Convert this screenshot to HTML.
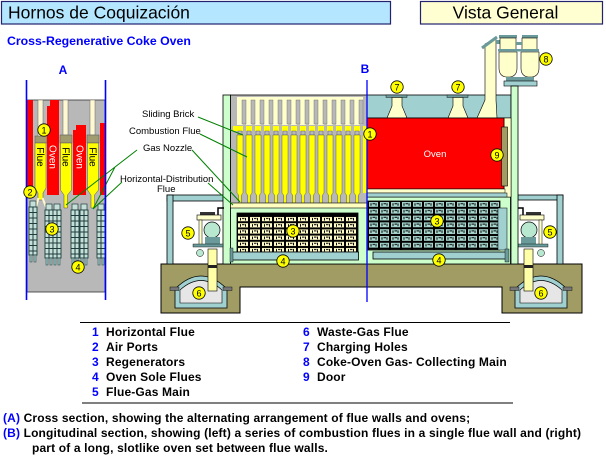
<!DOCTYPE html>
<html><head><meta charset="utf-8">
<style>
html,body{margin:0;padding:0;background:#fff;}
svg{display:block;}
text{font-family:"Liberation Sans",Arial,sans-serif;}
</style></head><body>
<svg width="606" height="456" viewBox="0 0 606 456" xmlns="http://www.w3.org/2000/svg">
<defs>
 <pattern id="regL" x="237" y="216" width="12" height="6.2" patternUnits="userSpaceOnUse">
  <rect width="12" height="6.2" fill="#000"/>
  <rect x="1" y="1" width="10" height="4.2" fill="#fffbc8"/>
  <rect x="3" y="2" width="1" height="2.5" fill="#000"/>
  <rect x="5" y="2" width="2.5" height="1" fill="#000"/>
  <rect x="8" y="2" width="1" height="2.5" fill="#000"/>
 </pattern>
 <pattern id="regR" x="368" y="201" width="11" height="6.8" patternUnits="userSpaceOnUse">
  <rect width="11" height="6.8" fill="#000"/>
  <rect x="1" y="1" width="9" height="4.8" fill="#a8d8d0"/>
  <rect x="2.5" y="2.2" width="1" height="2.5" fill="#000"/>
  <rect x="4.5" y="2.2" width="2.5" height="1" fill="#000"/>
  <rect x="7.5" y="2.2" width="1" height="2.5" fill="#000"/>
 </pattern>
 <g id="colA">
  <rect x="1" y="-6" width="6" height="6" fill="#c4e0d8" stroke="#1e3c3c" stroke-width="0.7"/>
  <rect x="0" y="0" width="8" height="48" fill="#c4e0d8" stroke="#1e3c3c" stroke-width="0.9"/>
  <path d="M4,0V48 M0,5.5H8 M0,11H8 M0,16.5H8 M0,22H8 M0,27.5H8 M0,33H8 M0,38.5H8 M0,44H8" stroke="#1e3c3c" stroke-width="1" fill="none"/>
  <rect x="1" y="48" width="2" height="7" fill="#a0c8c8" stroke="#1e3c3c" stroke-width="0.5"/>
  <rect x="5" y="48" width="2" height="7" fill="#a0c8c8" stroke="#1e3c3c" stroke-width="0.5"/>
 </g>
 <g id="fu">
  <rect x="5" y="100" width="4" height="24" fill="#b8b8b8" stroke="#666" stroke-width="0.4"/>
  <rect x="6" y="124" width="3" height="10" fill="#b8b8b8"/>
  <rect x="1" y="131" width="4" height="4" fill="#b8b8b8" stroke="#555" stroke-width="0.4"/>
  <path d="M0,135 H6 V193 L4.2,195.5 V203 H1.8 V195.5 L0,193 Z" fill="#ff0" stroke="#444" stroke-width="0.4"/>
 </g>
 <g id="equip">
  <rect x="200" y="212" width="15" height="3" fill="#333"/>
  <rect x="197" y="215" width="24" height="5" fill="#ffffcc" stroke="#000" stroke-width="0.6"/>
  <path d="M218,215 V208 H224" stroke="#000" stroke-width="1.5" fill="none"/>
  <rect x="199" y="220" width="3" height="26" fill="#ffffcc" stroke="#000" stroke-width="0.5"/>
  <circle cx="212" cy="230" r="8" fill="#b8e8d0" stroke="#000" stroke-width="0.7"/>
  <rect x="205" y="237" width="15" height="7" fill="#6a9a9a"/>
  <rect x="193" y="244" width="30" height="3" fill="#6a9a9a" stroke="#000" stroke-width="0.4"/>
  <circle cx="200" cy="253" r="3.5" fill="#b8e8d0" stroke="#000" stroke-width="0.5"/>
 </g>
</defs>

<rect width="606" height="456" fill="#fff"/>

<!-- Header -->
<rect x="1.5" y="1.5" width="389" height="22.5" fill="#b4e6ff" stroke="#22226e" stroke-width="1.2"/>
<text x="8" y="18.5" font-size="17.5">Hornos de Coquización</text>
<rect x="420.5" y="1.5" width="182" height="22.5" fill="#ffffd2" stroke="#22226e" stroke-width="1.2"/>
<text x="505.5" y="18.5" font-size="17.5" text-anchor="middle">Vista General</text>
<text x="7" y="45" font-size="12.3" font-weight="bold" fill="#0000ff">Cross-Regenerative Coke Oven</text>

<!-- Section A -->
<text x="63" y="74" font-size="12" font-weight="bold" fill="#0000ff" text-anchor="middle">A</text>
<rect x="27" y="100" width="78" height="192" fill="#b8b8b8" stroke="#333" stroke-width="0.8"/>
<rect x="27" y="100" width="6" height="92" fill="#f00"/>
<!-- flue 1 -->
<rect x="38" y="100" width="5" height="37" fill="#fff8d0" stroke="#666" stroke-width="0.5"/>
<rect x="35" y="136" width="12" height="7" fill="#a09c70" stroke="#555" stroke-width="0.5"/>
<path d="M35,143 H46 V188 L43,193 V200 H38 V193 L35,188 Z" fill="#ff0" stroke="#555" stroke-width="0.5"/>
<path d="M38.5,198 L36,207 M42.5,198 L46,207" stroke="#fff8d0" stroke-width="2" fill="none"/>
<!-- oven 1 -->
<path d="M50,100 H59 V195 H47 V106 H50 Z" fill="#f00"/>
<!-- flue 2 -->
<rect x="63" y="100" width="5" height="35" fill="#fff8d0" stroke="#666" stroke-width="0.5"/>
<rect x="60" y="135" width="12" height="8" fill="#a09c70" stroke="#555" stroke-width="0.5"/>
<path d="M60.5,143 H71.5 V190 L67.5,195 V208 H64 V195 L60.5,190 Z" fill="#ff0" stroke="#555" stroke-width="0.5"/>
<!-- oven 2 -->
<path d="M76,125 H86 V195 H73 V130 H76 Z" fill="#f00"/>
<!-- flue 3 -->
<rect x="90" y="100" width="5" height="35" fill="#fff8d0" stroke="#666" stroke-width="0.5"/>
<rect x="87" y="135" width="12" height="8" fill="#a09c70" stroke="#555" stroke-width="0.5"/>
<path d="M87.5,143 H98.5 V190 L94.5,195 V208 H91 V195 L87.5,190 Z" fill="#ff0" stroke="#555" stroke-width="0.5"/>
<rect x="100" y="123" width="5" height="72" fill="#f00"/>
<text transform="translate(40.5,157) rotate(90)" x="0" y="3.6" font-size="10" text-anchor="middle" fill="#000">Flue</text>
<text transform="translate(53,157) rotate(90)" x="0" y="3.6" font-size="10" text-anchor="middle" fill="#fff">Oven</text>
<text transform="translate(66,157) rotate(90)" x="0" y="3.6" font-size="10" text-anchor="middle" fill="#000">Flue</text>
<text transform="translate(80,157) rotate(90)" x="0" y="3.6" font-size="10" text-anchor="middle" fill="#fff">Oven</text>
<text transform="translate(93,157) rotate(90)" x="0" y="3.6" font-size="10" text-anchor="middle" fill="#000">Flue</text>
<!-- regenerator columns A -->
<use href="#colA" x="29" y="207"/>
<use href="#colA" x="45" y="210"/>
<use href="#colA" x="53" y="210"/>
<use href="#colA" x="71" y="210"/>
<use href="#colA" x="80" y="210"/>
<use href="#colA" x="97" y="210"/>
<path d="M137,150 L115,167 L66,205 M115,167 L93,209 M122,182 L93,209" stroke="#008000" stroke-width="1" fill="none"/>
<line x1="26.5" y1="80" x2="26.5" y2="300" stroke="#0000ff" stroke-width="1.6"/>
<line x1="105.5" y1="80" x2="105.5" y2="300" stroke="#0000ff" stroke-width="1.6"/>

<!-- Foundation -->
<path d="M161,264 H582 V313 H502 V287 H240 V313 H161 Z" fill="#a09c64" stroke="#000" stroke-width="1"/>
<!-- left pit -->
<path d="M175,289 Q201,263 227,289 V308 H175 Z" fill="#a0d0d0" stroke="#000" stroke-width="0.8"/>
<path d="M180,290 Q201,271 222,290 V303 H180 Z" fill="#e6e6e6" stroke="#000" stroke-width="0.6"/>
<rect x="170" y="287" width="9" height="3.5" fill="#777" stroke="#000" stroke-width="0.4"/>
<rect x="223" y="287" width="9" height="3.5" fill="#777" stroke="#000" stroke-width="0.4"/>
<!-- right pit -->
<path d="M515,289 Q541,263 567,289 V308 H515 Z" fill="#a0d0d0" stroke="#000" stroke-width="0.8"/>
<path d="M520,290 Q541,271 562,290 V303 H520 Z" fill="#e6e6e6" stroke="#000" stroke-width="0.6"/>
<rect x="510" y="287" width="9" height="3.5" fill="#777" stroke="#000" stroke-width="0.4"/>
<rect x="563" y="287" width="9" height="3.5" fill="#777" stroke="#000" stroke-width="0.4"/>

<!-- frames -->
<rect x="167" y="195" width="56" height="6" fill="#a0d0d0" stroke="#000" stroke-width="0.8"/>
<rect x="167" y="195" width="6" height="69" fill="#a0d0d0" stroke="#000" stroke-width="0.8"/>
<rect x="518" y="195" width="45" height="5" fill="#a0d0d0" stroke="#000" stroke-width="0.8"/>
<rect x="557" y="195" width="6" height="69" fill="#a0d0d0" stroke="#000" stroke-width="0.8"/>

<!-- chamber -->
<rect x="230.5" y="197" width="280" height="67" fill="#ccffcc" stroke="#000" stroke-width="0.8"/>
<rect x="223" y="95" width="7.5" height="169" fill="#ccffcc" stroke="#000" stroke-width="0.8"/>

<!-- flue wall -->
<rect x="230.5" y="95" width="136.5" height="112" fill="#b8b8b8" stroke="#000" stroke-width="0.8"/>
<rect x="237" y="97" width="126" height="28" fill="#ffffcc"/>
<rect x="233" y="126" width="134" height="5" fill="#ff0"/>
<use href="#fu" x="237"/><use href="#fu" x="246"/><use href="#fu" x="255"/><use href="#fu" x="264"/>
<use href="#fu" x="273"/><use href="#fu" x="282"/><use href="#fu" x="291"/><use href="#fu" x="300"/>
<use href="#fu" x="309"/><use href="#fu" x="318"/><use href="#fu" x="327"/><use href="#fu" x="336"/>
<use href="#fu" x="345"/><use href="#fu" x="354"/>
<rect x="363" y="135" width="3.5" height="58" fill="#ff0"/>
<rect x="230.5" y="203" width="136.5" height="5" fill="#ffffc0" stroke="#000" stroke-width="0.6"/>

<!-- regenerators B -->
<rect x="237" y="213" width="121" height="39" fill="url(#regL)" stroke="#000" stroke-width="0.8"/>
<rect x="237" y="213" width="121" height="3" fill="#000"/>
<rect x="230.5" y="252" width="128" height="8" fill="#a0d0d0" stroke="#000" stroke-width="0.8"/>
<rect x="230" y="248" width="3" height="14" fill="#6a9a9a" stroke="#000" stroke-width="0.4"/>
<rect x="368" y="201" width="132" height="49" fill="url(#regR)" stroke="#000" stroke-width="0.8"/>
<rect x="498" y="208" width="9" height="42" fill="#a0d0d0" stroke="#000" stroke-width="0.5"/>
<rect x="373" y="252" width="135" height="7" fill="#a0d0d0" stroke="#000" stroke-width="0.8"/>
<rect x="505" y="249" width="4" height="13" fill="#6a9a9a" stroke="#000" stroke-width="0.4"/>

<!-- equipment -->
<use href="#equip"/>
<g transform="translate(741,0) scale(-1,1)"><use href="#equip"/></g>
<rect x="208" y="249" width="9" height="42" fill="#ffffa8" stroke="#000" stroke-width="0.6"/>
<rect x="208" y="265" width="9" height="3" fill="#222"/>
<rect x="524" y="249" width="9" height="42" fill="#ffffa8" stroke="#000" stroke-width="0.6"/>
<rect x="524" y="265" width="9" height="3" fill="#222"/>

<!-- right top -->
<rect x="367" y="95" width="144" height="23" fill="#a0d0d0" stroke="#000" stroke-width="0.8"/>
<rect x="386" y="95" width="21" height="2.5" fill="#6a9a9a" stroke="#000" stroke-width="0.4"/>
<path d="M392,97.5 H402 V106 L407,118 H387 L392,106 Z" fill="#ffffcc" stroke="#000" stroke-width="0.6"/>
<rect x="447" y="95" width="21" height="2.5" fill="#6a9a9a" stroke="#000" stroke-width="0.4"/>
<path d="M453,97.5 H463 V106 L468,118 H448 L453,106 Z" fill="#ffffcc" stroke="#000" stroke-width="0.6"/>
<path d="M485,44 L496,38 V100 L497,118 H477 L485,100 Z" fill="#ffffcc" stroke="#000" stroke-width="0.6"/>
<line x1="482" y1="48" x2="497" y2="37" stroke="#6a9a9a" stroke-width="3"/>
<rect x="496" y="40" width="4" height="4" fill="#6a9a9a"/>
<rect x="499" y="35" width="18" height="3" fill="#6a9a9a"/>
<rect x="522" y="35" width="16" height="3" fill="#6a9a9a"/>
<rect x="500" y="38" width="16" height="12" fill="#ffffcc" stroke="#000" stroke-width="0.6"/>
<rect x="522" y="38" width="15" height="12" fill="#ffffcc" stroke="#000" stroke-width="0.6"/>
<rect x="516" y="42" width="6" height="3" fill="#6a9a9a"/>
<rect x="498" y="49" width="41" height="2.5" fill="#6a9a9a"/>
<path d="M499,52 H517 V68 Q517,76 510,77 H506 Q499,76 499,68 Z" fill="#ffffcc" stroke="#000" stroke-width="0.6"/>
<path d="M521,52 H539 V68 Q539,76 532,77 H528 Q521,76 521,68 Z" fill="#ffffcc" stroke="#000" stroke-width="0.6"/>
<rect x="506" y="77" width="28" height="4" fill="#6a9a9a"/>
<rect x="504" y="81" width="33" height="5" fill="#a0d0d0" stroke="#000" stroke-width="0.6"/>
<rect x="511" y="86" width="7" height="178" fill="#ccffcc" stroke="#000" stroke-width="0.8"/>
<rect x="504" y="118" width="7" height="79" fill="#ffffcc" stroke="#000" stroke-width="0.5"/>
<rect x="367" y="118" width="137" height="71" fill="#f00" stroke="#000" stroke-width="0.8"/>
<text x="435" y="157" font-size="9.5" fill="#fff" text-anchor="middle">Oven</text>
<rect x="501.5" y="127" width="6" height="59" fill="#a09c64" stroke="#000" stroke-width="0.6"/>
<rect x="367" y="189" width="138" height="4" fill="#ffffcc" stroke="#000" stroke-width="0.5"/>
<rect x="367" y="193" width="140" height="4" fill="#a0d0d0" stroke="#000" stroke-width="0.5"/>

<!-- B label and line -->
<text x="365" y="73" font-size="12" font-weight="bold" fill="#0000ff" text-anchor="middle">B</text>
<line x1="367" y1="80" x2="367" y2="302" stroke="#0000ff" stroke-width="1.3"/>

<!-- middle labels -->
<g font-size="9.5" fill="#000">
<text x="142" y="117">Sliding Brick</text>
<text x="129" y="134">Combustion Flue</text>
<text x="143" y="151">Gas Nozzle</text>
<text x="120" y="182">Horizontal-Distribution</text>
<text x="157" y="192">Flue</text>
</g>
<path d="M198,117 L243,135 M200,134 L247,157 M192,150 L240,202 M208,183 L233,205" stroke="#008000" stroke-width="1" fill="none"/>

<!-- number circles -->
<g font-size="9" text-anchor="middle" fill="#000">
<g fill="#ff0" stroke="#000" stroke-width="0.8">
<circle cx="44" cy="130" r="6.2"/><circle cx="370" cy="134" r="6.2"/>
<circle cx="30" cy="192" r="6.2"/>
<circle cx="52" cy="229" r="6.2"/><circle cx="293" cy="231" r="6.2"/><circle cx="437" cy="221" r="6.2"/>
<circle cx="78" cy="267" r="6.2"/><circle cx="283" cy="261" r="6.2"/><circle cx="439" cy="260" r="6.2"/>
<circle cx="188" cy="233" r="6.2"/><circle cx="550" cy="232" r="6.2"/>
<circle cx="199" cy="293" r="6.2"/><circle cx="541" cy="293" r="6.2"/>
<circle cx="397" cy="87" r="6.2"/><circle cx="458" cy="87" r="6.2"/>
<circle cx="546" cy="59" r="6.2"/>
<circle cx="497" cy="155" r="6.2"/>
</g>
<text x="44" y="133.3">1</text><text x="370" y="137.3">1</text>
<text x="30" y="195.3">2</text>
<text x="52" y="232.3">3</text><text x="293" y="234.3">3</text><text x="437" y="224.3">3</text>
<text x="78" y="270.3">4</text><text x="283" y="264.3">4</text><text x="439" y="263.3">4</text>
<text x="188" y="236.3">5</text><text x="550" y="235.3">5</text>
<text x="199" y="296.3">6</text><text x="541" y="296.3">6</text>
<text x="397" y="90.3">7</text><text x="458" y="90.3">7</text>
<text x="546" y="62.3">8</text>
<text x="497" y="158.3">9</text>
</g>

<!-- legend -->
<line x1="80" y1="322.5" x2="510" y2="322.5" stroke="#000" stroke-width="1"/>
<g font-size="12" font-weight="bold" letter-spacing="0.15">
<g fill="#0000ff">
<text x="92" y="336">1</text><text x="92" y="351">2</text><text x="92" y="366">3</text><text x="92" y="381">4</text><text x="92" y="396">5</text>
<text x="303" y="336">6</text><text x="303" y="351">7</text><text x="303" y="366">8</text><text x="303" y="381">9</text>
</g>
<g fill="#000">
<text x="106" y="336">Horizontal Flue</text>
<text x="106" y="351">Air Ports</text>
<text x="106" y="366">Regenerators</text>
<text x="106" y="381">Oven Sole Flues</text>
<text x="106" y="396">Flue-Gas Main</text>
<text x="317" y="336">Waste-Gas Flue</text>
<text x="317" y="351">Charging Holes</text>
<text x="317" y="366">Coke-Oven Gas- Collecting Main</text>
<text x="317" y="381">Door</text>
</g>
</g>
<line x1="82" y1="403" x2="513" y2="403" stroke="#000" stroke-width="1"/>

<!-- bottom text -->
<g font-size="12" font-weight="bold" fill="#000" letter-spacing="0.15">
<text x="3" y="422"><tspan fill="#0000ff">(A)</tspan> Cross section, showing the alternating arrangement of flue walls and ovens;</text>
<text x="3" y="437"><tspan fill="#0000ff">(B)</tspan> Longitudinal section, showing (left) a series of combustion flues in a single flue wall and (right)</text>
<text x="32" y="452">part of a long, slotlike oven set between flue walls.</text>
</g>
</svg>
</body></html>
